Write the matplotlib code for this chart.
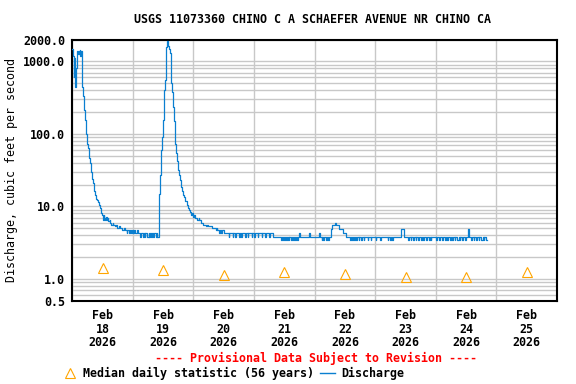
import numpy as np
import matplotlib.pyplot as plt
from matplotlib.lines import Line2D

plt.rcParams['font.family'] = ['DejaVu Sans Mono']
plt.rcParams['font.weight'] = 'bold'
plt.rcParams['font.size'] = 8.4

# hours since Feb 18 00:00, discharge in cfs (step data)
storm1_hours = [0.0, 0.25, 0.5, 0.75, 1.0, 1.25, 1.5, 1.75, 2.25, 2.5, 2.75, 3.0, 3.25, 3.5,
                3.75, 4.0, 4.25, 4.5, 4.75, 5.0, 5.25, 5.5, 5.75, 6.0, 6.25, 6.5, 6.75, 7.0,
                7.25, 7.5, 7.75, 8.0, 8.25, 8.5, 8.75, 9.0, 9.25, 9.5, 9.75, 10.0, 10.5, 11.0,
                11.5, 11.75, 12.0, 12.5, 12.75, 13.0, 13.5, 13.75, 14.0, 14.25, 14.75, 15.0,
                15.5, 16.0, 16.25, 17.0, 17.5, 17.75, 18.5, 18.75, 19.5, 20.5, 20.75, 21.5,
                21.75, 22.5, 22.75, 23.25, 23.5, 24.0, 24.5, 25.0, 25.5, 26.0]
storm1_flow = [1500, 1200, 600, 1100, 520, 440, 800, 1400, 1250, 1400, 1300, 1450, 1200, 1400,
               600, 440, 330, 260, 215, 156, 130, 100, 82, 72, 64, 55, 46, 40,
               34, 30, 27, 24, 21, 18.5, 16.4, 14.4, 13.5, 12.8, 12.3, 11.6, 10.5, 9.4,
               8.1, 7.5, 6.5, 7.5, 7.0, 6.5, 7.2, 6.5, 7.0, 6.2, 6.6, 6.0,
               5.6, 6.0, 5.6, 5.3, 5.6, 5.0, 5.3, 5.0, 4.7, 5.0, 4.7, 4.3,
               4.7, 4.3, 4.7, 4.3, 4.7, 4.3, 4.7, 4.3, 4.7, 4.3]

base1_hours = [27.0, 27.25, 28.0, 28.5, 28.75, 29.0, 29.5, 30.25, 30.5, 30.75, 31.25, 31.75,
               32.0, 32.5, 33.0, 33.5, 33.75, 34.25]
base1_flow = [3.8, 4.3, 3.8, 4.3, 3.8, 4.3, 3.8, 4.3, 3.8, 4.3, 3.8, 4.3,
              3.8, 4.3, 3.8, 4.3, 3.8, 4.3]

storm2_hours = [34.5, 34.75, 35.0, 35.25, 35.5, 35.75, 36.0, 36.25, 36.5, 36.75, 37.0, 37.25,
                37.5, 37.75, 38.0, 38.25, 38.5, 38.75, 39.0, 39.25, 39.5, 39.75, 40.0, 40.25,
                40.5, 40.75, 41.0, 41.25, 41.5, 41.75, 42.0, 42.25, 42.5, 43.0, 43.25, 43.5,
                44.0, 44.25, 44.75, 45.25, 45.75, 46.25, 46.5, 47.0, 47.5, 47.75, 48.25, 48.5,
                49.25, 50.0, 50.25, 51.0, 51.75, 53.0, 53.5, 53.75, 55.25, 57.0, 57.25, 57.5,
                58.25, 58.5, 59.0, 59.25, 60.0]
storm2_flow = [15, 27, 40, 60, 90, 120, 156, 250, 400, 550, 1100, 1600,
               1900, 1800, 1650, 1600, 1500, 1300, 1050, 500, 380, 300, 235, 150,
               90, 72, 62, 55, 42, 35, 32, 27, 23, 20, 18.6, 16.5,
               14.5, 13.5, 12, 10.5, 9.6, 9.0, 8.5, 7.6, 8.1, 7.2, 7.6, 6.9,
               6.5, 6.9, 6.5, 6.0, 5.6, 5.3, 5.6, 5.3, 5.0, 4.7, 5.0, 4.7,
               4.3, 4.7, 4.3, 4.7, 4.3]

base2_hours = [62.0, 62.25, 63.5, 63.75, 64.5, 64.75, 66.0, 66.25, 67.0, 67.25, 68.5, 68.75,
               69.5, 69.75, 71.0, 71.25, 72.0, 72.25, 73.5, 73.75, 75.0, 75.25, 76.5, 76.75,
               78.0, 78.25, 79.5, 82.75, 83.0, 83.5, 83.75, 84.25, 84.5, 85.0, 85.25, 85.75,
               86.0, 86.75, 87.0, 87.5, 88.0, 88.25, 88.75, 89.0, 89.5, 90.0, 90.25, 93.75,
               94.0, 97.75, 98.0, 98.75, 99.0, 99.5, 99.75, 100.5, 100.75, 101.25, 101.5,
               102.5, 103.0, 104.0, 104.5, 105.0, 105.5, 106.0, 107.25, 108.5, 110.0, 110.25,
               110.75, 111.0, 111.5, 112.0, 112.5, 112.75, 113.5, 113.75, 114.5, 114.75,
               115.5, 115.75, 117.0, 117.25, 118.25, 118.5, 120.25, 120.5, 122.0, 122.25,
               125.0, 125.25, 126.0, 126.25, 126.75, 127.0, 130.25, 131.25, 133.0, 133.5,
               134.0, 134.25, 135.0, 135.5, 136.0, 136.25, 137.0, 137.25, 138.0, 138.5,
               139.0, 139.25, 140.0, 140.5, 141.25, 141.5, 142.0, 142.25, 144.25, 144.5,
               145.25, 145.5, 146.5, 146.75, 147.5, 148.0, 148.5, 148.75, 149.5, 150.0,
               150.5, 150.75, 151.5, 151.75, 152.5, 153.0, 153.5, 153.75, 154.5, 154.75,
               155.5, 156.0, 156.75, 157.0, 157.25, 158.0, 158.5, 159.0, 159.25, 160.0,
               160.5, 161.0, 161.25, 162.0, 162.5, 163.0, 163.25, 164.0, 164.25]
base2_flow = [3.8, 4.3, 3.8, 4.3, 3.8, 4.3, 3.8, 4.3, 3.8, 4.3, 3.8, 4.3,
              3.8, 4.3, 3.8, 4.3, 3.8, 4.3, 3.8, 4.3, 3.8, 4.3, 3.8, 4.3,
              3.8, 4.3, 3.8, 3.4, 3.8, 3.4, 3.8, 3.4, 3.8, 3.4, 3.8, 3.4,
              3.8, 3.4, 3.8, 3.4, 3.8, 3.4, 3.8, 3.4, 3.8, 4.3, 3.8, 4.3,
              3.8, 4.3, 3.8, 3.4, 3.8, 3.4, 3.8, 3.4, 3.8, 3.4, 3.8,
              4.9, 5.5, 5.9, 5.5, 5.5, 4.9, 4.9, 4.3, 3.8, 3.4, 3.8,
              3.4, 3.8, 3.4, 3.8, 3.4, 3.8, 3.4, 3.8, 3.4, 3.8,
              3.4, 3.8, 3.4, 3.8, 3.4, 3.8, 3.4, 3.8, 3.4, 3.8,
              3.4, 3.8, 3.4, 3.8, 3.4, 3.8, 4.9, 3.8, 3.4, 3.8,
              3.4, 3.8, 3.4, 3.8, 3.4, 3.8, 3.4, 3.8, 3.4, 3.8,
              3.4, 3.8, 3.4, 3.8, 3.4, 3.8, 3.4, 3.8, 3.4, 3.8,
              3.4, 3.8, 3.4, 3.8, 3.4, 3.8, 3.4, 3.8, 3.4, 3.8,
              3.4, 3.8, 3.4, 3.8, 3.4, 3.8, 3.4, 3.8, 3.4, 3.8,
              3.4, 3.8, 4.9, 4.3, 3.8, 3.4, 3.8, 3.4, 3.8, 3.4,
              3.8, 3.4, 3.8, 3.4, 3.8, 3.4, 3.8, 3.4, 3.4]

median_hours = [12, 36, 60, 84, 108, 132, 156, 180]
median_flow = [1.42, 1.33, 1.13, 1.26, 1.16, 1.05, 1.05, 1.26]

day_labels = ["Feb\n18\n2026", "Feb\n19\n2026", "Feb\n20\n2026", "Feb\n21\n2026",
              "Feb\n22\n2026", "Feb\n23\n2026", "Feb\n24\n2026", "Feb\n25\n2026"]
y_ticks = [0.5, 1, 10, 100, 1000, 2000]
y_labels = ["0.5", "1.0", "10.0", "100.0", "1000.0", "2000.0"]

hours = storm1_hours + base1_hours + storm2_hours + base2_hours
flow = storm1_flow + base1_flow + storm2_flow + base2_flow

fig = plt.figure(figsize=(5.76, 3.84), dpi=100)
ax = fig.add_axes([0.1255, 0.2167, 0.8415, 0.6803])

ax.plot(hours, flow, drawstyle='steps-post', color='#0a7fd0', lw=0.9, zorder=3)
ax.plot(median_hours, median_flow, linestyle='none', marker='^', markersize=7,
        markerfacecolor='none', markeredgecolor='#ffa500', markeredgewidth=0.8, zorder=4)

ax.set_yscale('log')
ax.set_ylim(0.5, 2000)
ax.set_xlim(0, 192)
ax.set_yticks(y_ticks)
ax.set_yticklabels(y_labels)
ax.set_xticks(np.arange(0, 193, 24))
ax.set_xticklabels([])
ax.set_xticks(median_hours, minor=True)
ax.set_xticklabels(day_labels, minor=True, linespacing=1.05)
ax.tick_params(axis='both', which='both', length=0)
ax.tick_params(axis='y', pad=5)
ax.tick_params(axis='x', which='minor', pad=6)
ax.grid(True, which='major', axis='x', color='#c8c8c8', lw=1.0)
ax.grid(True, which='both', axis='y', color='#c8c8c8', lw=1.0)
ax.set_axisbelow(True)
for s in ax.spines.values():
    s.set_linewidth(1.5)

ax.set_ylabel("Discharge, cubic feet per second", labelpad=4)
fig.text(0.542, 0.948, "USGS 11073360 CHINO C A SCHAEFER AVENUE NR CHINO CA", ha='center', va='center')
fig.text(0.548, 0.066, "---- Provisional Data Subject to Revision ----", ha='center', va='center', color='red')

handles = [Line2D([], [], linestyle='none', marker='^', markersize=7, markerfacecolor='none',
                  markeredgecolor='#ffa500', markeredgewidth=0.8),
           Line2D([], [], color='#0a7fd0', lw=1.0)]
fig.legend(handles, ["Median daily statistic (56 years)", "Discharge"], loc='center',
           bbox_to_anchor=(0.405, 0.028), ncol=2, frameon=False, handlelength=1.3,
           handletextpad=0.5, columnspacing=0.5, borderpad=0)

fig.savefig("out.png", dpi=100)
